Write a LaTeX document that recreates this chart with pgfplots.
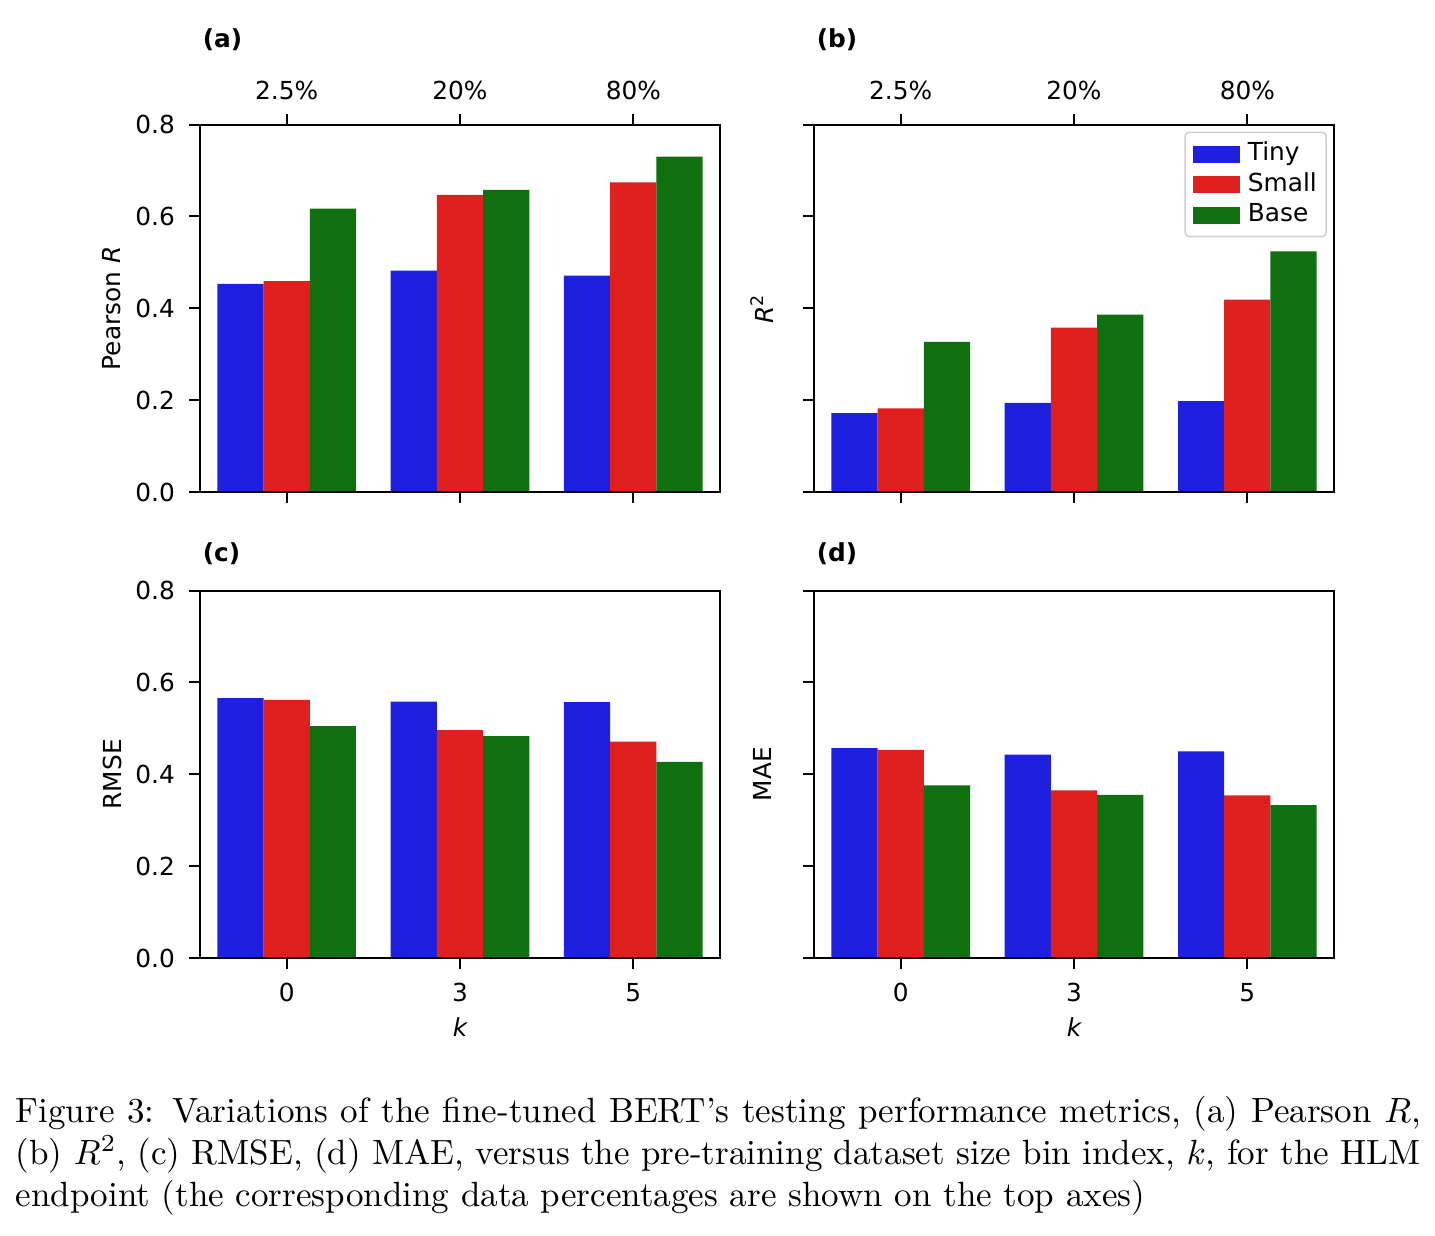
\documentclass[border=0pt]{standalone}
\usepackage{pgfplots}
\usepackage{pgfplotstable}
\pgfplotsset{compat=1.18}
\usepackage{fontspec}
\newfontfamily\dejavu{DejaVu Sans}
\newcommand{\chartfont}{\dejavu\fontsize{6.2}{7.4}\selectfont}
\definecolor{cTiny}{RGB}{31,31,224}
\definecolor{cSmall}{RGB}{224,31,31}
\definecolor{cBase}{RGB}{16,112,16}

% metric values per size bin index k (0,3,5 plotted at 0,1,2)
\pgfplotstableread{
pos tiny small base
0 0.453 0.459 0.617
1 0.482 0.647 0.658
2 0.471 0.674 0.730
}\pearson
\pgfplotstableread{
pos tiny small base
0 0.172 0.182 0.327
1 0.194 0.358 0.386
2 0.198 0.419 0.524
}\rsq
\pgfplotstableread{
pos tiny small base
0 0.566 0.562 0.505
1 0.558 0.496 0.483
2 0.557 0.471 0.427
}\rmse
\pgfplotstableread{
pos tiny small base
0 0.457 0.453 0.376
1 0.443 0.365 0.355
2 0.450 0.354 0.333
}\mae

\pgfplotsset{
  panel/.style={
    scale only axis, width=130pt, height=91.875pt,
    xmin=-0.5, xmax=2.5, ymin=0, ymax=0.8,
    xtick={0,1,2}, ytick={0,0.2,0.4,0.6,0.8},
    tick align=outside, ytick pos=left,
    major tick length=2.75pt,
    every tick/.style={black, line width=0.5pt},
    axis line style={line width=0.5pt},
    tick label style={font=\chartfont},
    label style={font=\chartfont},
    /pgf/number format/assume math mode=true,
    yticklabel style={/pgf/number format/fixed, /pgf/number format/fixed zerofill, /pgf/number format/precision=1},
    ybar, bar width=0.26667,
    axis on top,
    clip=false,
  },
  toprow/.style={xtick pos=both, xticklabel pos=upper, xticklabels={2.5\%,20\%,80\%}},
  botrow/.style={xtick pos=lower, xticklabels={0,3,5}, xlabel={\itshape k},
    xlabel style={at={(axis description cs:0.5,-0.1875)}, anchor=center}},
  noylabels/.style={yticklabels={}},
  tinybar/.style={fill=cTiny, draw=none, bar shift=-0.26667},
  smallbar/.style={fill=cSmall, draw=none, bar shift=0},
  basebar/.style={fill=cBase, draw=none, bar shift=0.26667},
}

\begin{document}
\begin{tikzpicture}
\useasboundingbox (0,0) rectangle (358.75pt,-308.75pt);

% (a) Pearson R
\begin{axis}[panel, toprow, at={(50pt,-123pt)}, anchor=south west,
  ylabel={Pearson {\itshape R}},
  ylabel style={at={(axis description cs:-0.169,0.5)}, anchor=center}]
  \addplot[tinybar] table[x=pos, y=tiny]{\pearson};
  \addplot[smallbar] table[x=pos, y=small]{\pearson};
  \addplot[basebar] table[x=pos, y=base]{\pearson};
\end{axis}

% (b) R^2
\begin{axis}[panel, toprow, noylabels, at={(203.5pt,-123pt)}, anchor=south west,
  ylabel={{\itshape R}\textsuperscript{2}},
  ylabel style={at={(axis description cs:-0.1,0.5)}, anchor=center},
  legend cell align=left,
  legend image code/.code={\fill[#1, sharp corners] (0pt,-2.125pt) rectangle (11.75pt,2.125pt);},
  legend style={at={(axis description cs:1,1)}, anchor=north east,
    xshift=-1.75pt, yshift=-1.75pt, draw=black!18, fill=white,
    rounded corners=1pt, font=\chartfont, inner sep=2pt,
    nodes={inner sep=0.35pt}, row sep=0.75pt,
    /tikz/every odd column/.append style={column sep=1.6pt}}]
  \addplot[tinybar] table[x=pos, y=tiny]{\rsq};
  \addplot[smallbar] table[x=pos, y=small]{\rsq};
  \addplot[basebar] table[x=pos, y=base]{\rsq};
  \legend{Tiny,Small,Base}
\end{axis}

% (c) RMSE
\begin{axis}[panel, botrow, at={(50pt,-239.5pt)}, anchor=south west,
  ylabel={RMSE},
  ylabel style={at={(axis description cs:-0.169,0.5)}, anchor=center}]
  \addplot[tinybar] table[x=pos, y=tiny]{\rmse};
  \addplot[smallbar] table[x=pos, y=small]{\rmse};
  \addplot[basebar] table[x=pos, y=base]{\rmse};
\end{axis}

% (d) MAE
\begin{axis}[panel, botrow, noylabels, at={(203.5pt,-239.5pt)}, anchor=south west,
  ylabel={MAE},
  ylabel style={at={(axis description cs:-0.1,0.5)}, anchor=center}]
  \addplot[tinybar] table[x=pos, y=tiny]{\mae};
  \addplot[smallbar] table[x=pos, y=small]{\mae};
  \addplot[basebar] table[x=pos, y=base]{\mae};
\end{axis}

% panel letters
\node[anchor=base west, inner sep=0, font=\chartfont\bfseries] at (50.5pt,-11.75pt) {(a)};
\node[anchor=base west, inner sep=0, font=\chartfont\bfseries] at (204pt,-11.75pt) {(b)};
\node[anchor=base west, inner sep=0, font=\chartfont\bfseries] at (50.5pt,-140.25pt) {(c)};
\node[anchor=base west, inner sep=0, font=\chartfont\bfseries] at (204pt,-140.25pt) {(d)};

% caption
\node[anchor=base west, inner sep=0] at (3.75pt,-280.5pt) {%
  \scalebox{0.876}{\parbox[t]{401pt}{\fontsize{10}{12.1}\selectfont
  Figure 3: Variations of the fine-tuned BERT's testing performance metrics, (a) Pearson $R$,\linebreak
  (b) $R^2$, (c) RMSE, (d) MAE, versus the pre-training dataset size bin index, $k$, for the HLM\linebreak
  endpoint (the corresponding data percentages are shown on the top axes)}}};
\end{tikzpicture}
\end{document}
